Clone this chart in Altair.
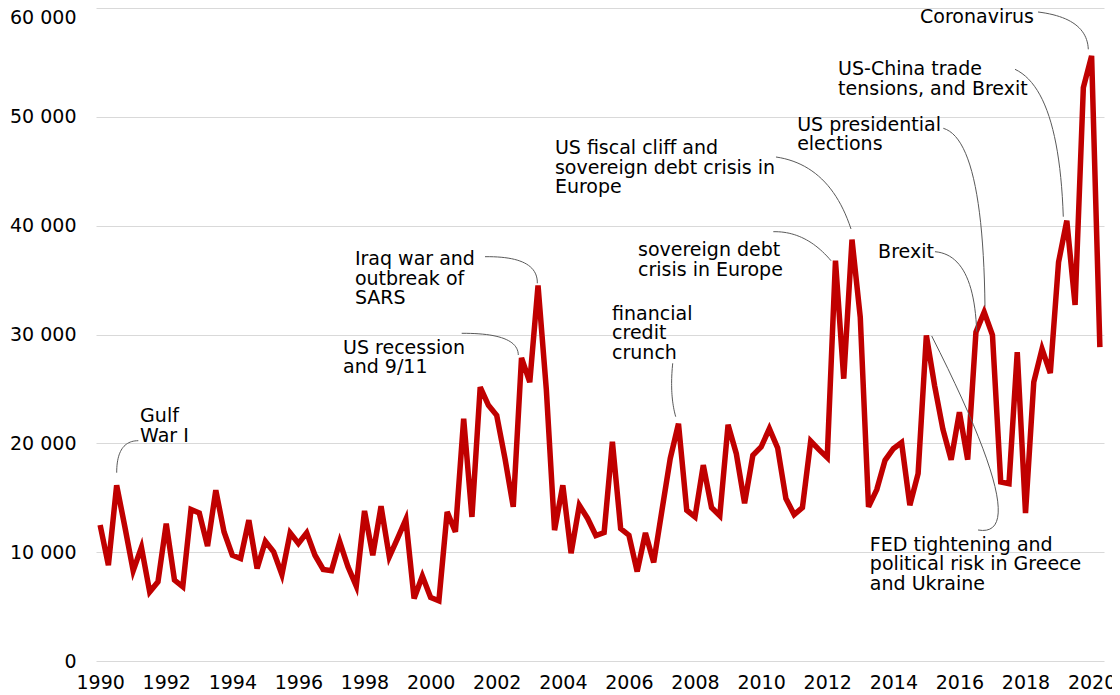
import altair as alt
import pandas as pd

# Quarterly values, 1990 Q1 .. 2020 Q2
values = [
    12500, 8800, 16150, 12300, 8300, 10450, 6350, 7280, 12630, 7430,
    6820, 13920, 13600, 10550, 15690, 11860, 9720, 9420, 12940, 8500,
    11000, 10030, 7950, 11770, 10800, 11770, 9720, 8410, 8290, 10950,
    8650, 6880, 13790, 9720, 14220, 9570, 11260, 13000, 5750, 7800,
    5840, 5530, 13700, 11860, 22270, 13240, 25170, 23490, 22570, 18600,
    14160, 27860, 25620, 34500, 25000, 12020, 16150, 9900, 14310, 13100,
    11530, 11800, 20150, 12170, 11560, 8220, 11770, 9060, 13850, 18600,
    21800, 13850, 13240, 18000, 14100, 13350, 21700, 19050, 14500, 18900,
    19660, 21350, 19580, 14930, 13450, 14100, 20210, 19420, 18690, 36790,
    25940, 38720, 31590, 14160, 15750, 18440, 19510, 20070, 14310, 17220,
    29910, 25300, 21300, 18500, 22870, 18500, 30210, 32060, 29950, 16450,
    16300, 28380, 13600, 25630, 28680, 26450, 36640, 40460, 32720, 52690,
    55600, 28840,
]
start_year = 1990
periods = [start_year + i / 4 for i in range(len(values))]

x_ticks = list(range(1990, 2021, 2))
y_ticks = list(range(0, 60001, 10000))

# Annotation labels: text, left edge (year), top (value)
ann_text = [
    "Gulf\nWar I",
    "US recession\nand 9/11",
    "Iraq war and\noutbreak of\nSARS",
    "financial\ncredit\ncrunch",
    "sovereign debt\ncrisis in Europe",
    "US fiscal cliff and\nsovereign debt crisis in\nEurope",
    "US presidential\nelections",
    "Brexit",
    "US-China trade\ntensions, and Brexit",
    "Coronavirus",
    "FED tightening and\npolitical risk in Greece\nand Ukraine",
]
ann_x = [1991.21, 1997.35, 1997.71, 2005.49, 2006.275, 2003.76, 2011.09,
         2013.54, 2012.33, 2014.81, 2013.29]
ann_y = [23300, 29600, 37760, 32711, 38591, 47963, 50077, 38408, 55222,
         60000, 11486]

# Connector curves: (start near label, bend control, end near data point)
conn_x = [
    [1991.155, 1990.501, 1990.501],
    [2000.94, 2002.644, 2002.653],
    [2001.645, 2003.249, 2003.228],
    [2007.325, 2007.228, 2007.416],
    [2010.369, 2011.358, 2012.115],
    [2010.45, 2012.084, 2012.72],
    [2015.513, 2016.714, 2016.774],
    [2015.261, 2016.442, 2016.523],
    [2017.682, 2019.013, 2019.143],
    [2018.378, 2019.861, 2019.900],
    [2016.563, 2018.287, 2015.162],
]
conn_y = [
    [20242, 20242, 17302],
    [30110, 30138, 28117],
    [37149, 37213, 34705],
    [27354, 24441, 22447],
    [39446, 39510, 36781],
    [46310, 45574, 39694],
    [48947, 47872, 32554],
    [37608, 37305, 30257],
    [54368, 52466, 40824],
    [59633, 59081, 56205],
    [12037, 11118, 29862],
]

df = pd.DataFrame({"t": periods, "v": values})
ann_df = pd.DataFrame({"t": ann_x, "v": ann_y, "label": ann_text})

# sample each connector as a quadratic Bezier through its control point
conn_rows = []
steps = 24
for i, (xs, ys) in enumerate(zip(conn_x, conn_y)):
    for j in range(steps + 1):
        s = j / steps
        a, b, c = (1 - s) ** 2, 2 * s * (1 - s), s ** 2
        conn_rows.append({
            "id": i, "ord": j,
            "t": a * xs[0] + b * xs[1] + c * xs[2],
            "v": a * ys[0] + b * ys[1] + c * ys[2],
        })
conn_df = pd.DataFrame(conn_rows)

FONT = "DejaVu Sans"
xscale = alt.Scale(domain=[1989.875, 2020.375], nice=False, zero=False)
yscale = alt.Scale(domain=[0, 60000], nice=False, zero=True)

x_enc = alt.X(
    "t:Q", scale=xscale,
    axis=alt.Axis(values=x_ticks, format="d", title=None, grid=False,
                  domain=False, ticks=False, labelPadding=12,
                  labelFontSize=19, labelFont=FONT, labelColor="#000000",
                  labelFlush=False, labelOverlap=False),
)
y_enc = alt.Y(
    "v:Q", scale=yscale,
    axis=alt.Axis(values=y_ticks, title=None, domain=False, ticks=False,
                  labelExpr="replace(format(datum.value, ','), ',', ' ')",
                  gridColor="#D9D9D9", gridWidth=1, labelPadding=20,
                  labelFontSize=19, labelFont=FONT, labelColor="#000000",
                  labelBaseline={"condition": {"test": "datum.value == 60000", "value": "top"},
                                 "value": "middle"},
                  labelFlush=False, labelOverlap=False),
)

line = alt.Chart(df).mark_line(color="#C00000", strokeWidth=5.5).encode(x=x_enc, y=y_enc)

conn = alt.Chart(conn_df).mark_line(
    color="#595959", strokeWidth=1
).encode(
    x=alt.X("t:Q", scale=xscale),
    y=alt.Y("v:Q", scale=yscale),
    detail="id:N",
    order="ord:Q",
)

labels = alt.Chart(ann_df).mark_text(
    align="left", baseline="top", font=FONT, fontSize=19, lineHeight=19.5,
    lineBreak="\n", color="#000000"
).encode(
    x=alt.X("t:Q", scale=xscale),
    y=alt.Y("v:Q", scale=yscale),
    text="label:N",
)

chart = alt.layer(line, conn, labels).properties(
    width=1008, height=653,
    padding={"left": 88, "top": 0, "right": 8, "bottom": 32},
    autosize=alt.AutoSizeParams(type="none"),
).configure_view(stroke=None)

chart.save("out.html", embed_options={"renderer": "svg", "actions": False})
